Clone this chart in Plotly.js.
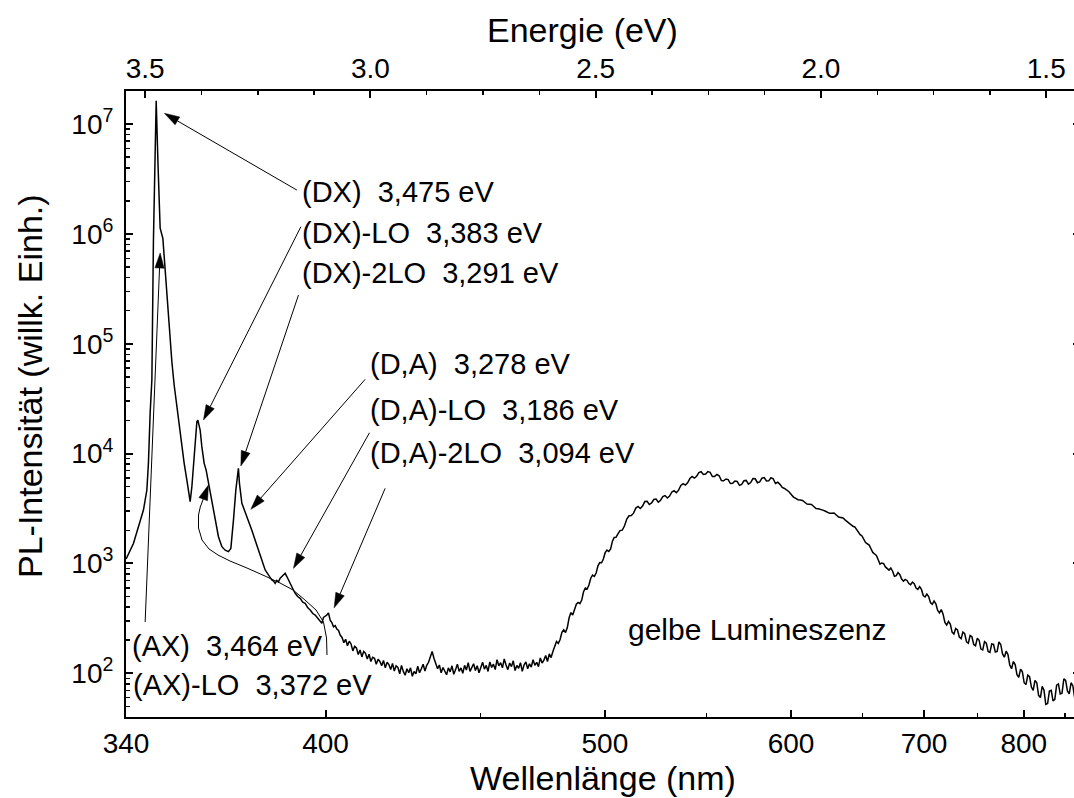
<!DOCTYPE html>
<html>
<head>
<meta charset="utf-8">
<script src="https://cdn.plot.ly/plotly-3.0.1.min.js"></script>
<style>
html,body{margin:0;padding:0;overflow:hidden;background:#fff;}
#chart{width:1082px;height:798px;}
</style>
</head>
<body>
<div id="chart"></div>
<script>
// ---------------- data ----------------
// near band-edge excitons and phonon replicas: photon energy (eV) / PL intensity (arb. units)
const excitonEnergy_eV = [
3.5422,3.526,3.5149,3.5038,3.4962,3.4927,3.4889,3.4851,3.4816,3.4755,3.4714,3.4667,3.4607,3.4556,3.4483,3.4407,3.4356,3.4296,3.4239,3.4185,
3.4134,3.4074,3.4039,3.4001,3.3963,3.3928,3.389,3.3852,3.383,3.3779,3.3741,3.369,3.3646,3.3595,3.352,3.3446,3.3373,3.3297,3.3224,3.3151,
3.3098,3.304,3.2987,3.293,3.2907,3.2853,3.278,3.2707,3.2632,3.2558,3.2485,3.241,3.2336,3.23,3.2263,3.2225,3.2188,3.215,3.2114,3.2078,
3.2041,3.2003,3.1966,3.193,3.1892,3.1855,3.1819,3.1781,3.1744,3.1707,3.167,3.1615,3.1559,3.1503,3.1448,3.139,3.1337,3.128,3.1226,3.117,
3.1115,3.1078,3.1042,3.1005,3.0967,3.0931,3.0893,3.0856,3.082,3.0782,3.0745,3.0708,3.0671
];
const excitonIntensity = [
1100,1520,2160,3060,4660,8200,23400,46700,879000,16300000,4240000,1130000,910000,452000,170000,68600,42100,26700,18900,12400,
8150,5740,4660,3650,4990,8150,14200,19500,20200,16400,11500,8150,7080,5360,3780,2480,1750,1420,1320,1280,
1370,2480,4660,7340,5360,3530,2960,2480,2010,1630,1320,1040,871,830,784,760,706,690,659,700,
681,735,757,790,813,760,706,640,593,570,535,500,481,445,433,395,377,350,339,318,
295,285,323,330,339,354,305,290,265,272,253,245,223
];
// noisy minimum between the UV lines and the yellow band
const valleyEnergy_eV = [
3.063,3.059,3.055,3.051,3.047,3.043,3.039,3.035,3.031,3.027,3.023,3.019,3.015,3.011,3.007,3.003,2.999,2.995,2.991,2.987,
2.983,2.979,2.975,2.971,2.967,2.963,2.959,2.955,2.951,2.947,2.943,2.939,2.935,2.931,2.927,2.923,2.919,2.915,2.911,2.907,
2.903,2.899,2.895,2.891,2.887,2.883,2.879,2.875,2.871,2.867,2.863,2.859,2.855,2.851,2.847,2.843,2.839,2.835,2.831,2.827,
2.823,2.819,2.815,2.811,2.807,2.803,2.799,2.795,2.791,2.787,2.783,2.779,2.775,2.771,2.767,2.763,2.759,2.755,2.751,2.747,
2.743,2.739,2.735,2.731,2.727,2.723,2.719,2.715,2.711,2.707,2.703,2.699,2.695,2.691,2.687,2.683,2.679,2.675,2.671,2.667,
2.663,2.659,2.655,2.651,2.647,2.643,2.639,2.635,2.631,2.627,2.623,2.619,2.615,2.611,2.607,2.603,2.599,2.595,2.591,2.587,
2.583,2.579,2.575,2.571,2.567,2.563,2.559,2.555,2.551,2.547,2.543,2.539,2.535,2.531,2.527,2.523,2.519,2.515,2.511,2.507,
2.503,2.499,2.495,2.491,2.487,2.483,2.479,2.475,2.471,2.467,2.463,2.459,2.455,2.451,2.446
];
const valleyIntensity = [
212,190,204,178,196,185,160,176,170,148,163,141,158,152,135,149,128,140,137,121,
134,128,117,131,112,126,120,108,123,105,117,113,99,118,104,96,110,101,112,94,
104,99,116,101,110,121,105,118,126,141,158,137,122,110,119,101,113,106,97,112,
103,117,98,108,121,104,112,100,118,107,125,104,113,122,106,117,101,114,126,109,
118,104,127,113,121,108,133,117,125,112,135,119,108,124,115,130,106,118,111,125,
104,119,127,110,122,114,133,118,126,115,138,124,132,145,128,150,139,158,176,195,
187,203,236,249,235,261,320,357,339,373,425,441,430,464,552,597,585,636,734,784,
761,818,950,1019,1015,1096,1253,1324,1284,1352,1586,1721,1731,1852,1990
];
// yellow luminescence band
const bandEnergy_eV = [
2.441,2.436,2.431,2.426,2.421,2.416,2.411,2.406,2.401,2.396,2.391,2.386,2.381,2.376,2.371,2.366,2.361,2.356,2.351,2.346,
2.341,2.336,2.331,2.326,2.321,2.316,2.311,2.306,2.301,2.296,2.291,2.286,2.281,2.276,2.271,2.266,2.261,2.256,2.251,2.246,
2.241,2.236,2.231,2.226,2.221,2.216,2.211,2.206,2.201,2.196,2.191,2.186,2.181,2.176,2.171,2.166,2.161,2.156,2.151,2.146,
2.141,2.136,2.131,2.126,2.121,2.116,2.111,2.106,2.101,2.096,2.091,2.086,2.081,2.076,2.071,2.066,2.061,2.056,2.051,2.046,
2.041,2.036,2.031,2.026,2.021,2.016,2.011,2.006,2.001,1.996,1.991,1.986,1.981,1.976,1.971,1.966,1.961,1.956,1.951,1.946,
1.941,1.937
];
const bandIntensity = [
2010,2200,2540,2720,2730,2870,3190,3300,3160,3330,3660,3680,3440,3560,3820,3860,3620,3760,4060,4150,
3940,4100,4470,4600,4400,4650,5120,5330,5170,5420,5930,6180,5990,6220,6720,6850,6470,6520,6870,6750,
6180,6200,6450,6280,5680,5650,5870,5800,5340,5360,5630,5580,5140,5250,5660,5700,5280,5450,5930,5900,
5430,5520,5970,6050,5630,5650,6030,5900,5340,5480,5250,4920,4810,4650,4500,4250,4020,3910,3800,3780,
3750,3610,3470,3455,3440,3300,3160,3140,3120,3060,3000,2930,2860,2870,2880,2760,2650,2620,2590,2480,
2380,2330
];
// red / near-infrared tail
const tailEnergy_eV = [
1.933,1.929,1.925,1.921,1.917,1.913,1.909,1.905,1.901,1.897,1.893,1.889,1.885,1.881,1.877,1.873,1.869,1.865,1.861,1.857,
1.853,1.849,1.845,1.841,1.837,1.833,1.829,1.825,1.821,1.817,1.813,1.809,1.805,1.801,1.797,1.793,1.789,1.785,1.781,1.777,
1.773,1.769,1.765,1.761,1.757,1.753,1.749,1.745,1.741,1.737,1.733,1.729,1.725,1.721,1.717,1.713,1.709,1.705,1.701,1.697,
1.693,1.689,1.685,1.681,1.677,1.673,1.669,1.665,1.661,1.657,1.653,1.649,1.645,1.641,1.637,1.633,1.629,1.625,1.621,1.617,
1.613,1.609,1.605,1.601,1.597,1.593,1.589,1.585,1.581,1.577,1.573,1.569,1.565,1.561,1.557,1.553,1.549,1.545,1.541,1.537,
1.533,1.529,1.525,1.521,1.517,1.513,1.509,1.505,1.501,1.497,1.493,1.489,1.485,1.481,1.477,1.473,1.469,1.465,1.461,1.457,
1.453,1.449,1.445,1.441,1.437,1.433,1.429,1.425,1.421
];
const tailIntensity = [
2210,2180,2150,2020,1890,1830,1780,1660,1550,1510,1470,1360,1260,1220,1180,1080,987,1010,998,930,
889,870,908,850,763,775,826,790,721,690,714,700,656,640,677,655,597,580,616,580,
510,495,526,500,441,425,455,430,373,355,380,345,290,275,296,280,237,228,256,248,
214,207,237,230,193,188,221,215,183,178,209,200,166,163,194,188,158,155,185,183,
156,158,193,183,150,140,159,148,119,110,128,120,97,92,109,103,82,79,96,93,
75,70,86,82,63,60,76,70,52,53,69,70,56,58,78,80,65,66,89,86,
69,65,82,77,60,58,73,74,62
];

// identified emission lines
const peakNames = ['(DX)','(DX)-LO','(DX)-2LO','(D,A)','(D,A)-LO','(D,A)-2LO','(AX)','(AX)-LO'];
const peakEnergies_eV = [3.475,3.383,3.291,3.278,3.186,3.094,3.464,3.372];
const bandLabel = 'gelbe Lumineszenz';

// axis ticks
const wavelengthTicks_nm = [350,400,500,600,700,800];        // left frame edge is printed "340"
const wavelengthTickText = ['340','400','500','600','700','800'];
const wavelengthMinor_nm = [450,550,650,750,850];
const decadeExponents = [2,3,4,5,6,7];

// ---------------- chart ----------------
const energy_eV = [].concat(excitonEnergy_eV, valleyEnergy_eV, bandEnergy_eV, tailEnergy_eV);
const intensity = [].concat(excitonIntensity, valleyIntensity, bandIntensity, tailIntensity);

const HC = 1239.84;                       // eV*nm
const nmToEV = nm => HC / nm;
const FONT = 'Liberation Sans, Arial, Helvetica, sans-serif';
const xRange = [3.5425, HC / 870];
const yLogRange = [Math.log10(40), Math.log10(2e7)];
const PLOT = {l: 126, t: 91, w: 954, h: 626};

const decadeTicks = decadeExponents.map(e => Math.pow(10, e));
const decadeTickText = decadeExponents.map(e => '10<sup>' + e + '</sup>');
const minorY = [];
for (let e = 1; e <= 7; e++) for (let m = 2; m <= 9; m++) minorY.push(m * Math.pow(10, e));

const fmtE = v => v.toFixed(3).replace('.', ',');
const labelText = peakNames.map((n, i) => n + '\u00a0\u00a0' + fmtE(peakEnergies_eV[i]) + ' eV');

// label anchor positions (eV, log10 intensity) -- layout only
const labelPos = [
  [3.1566, 6.3837], [3.1566, 6.005], [3.1566, 5.641],
  [3.005, 4.815], [3.005, 4.3965], [3.005, 4.0023],
  [3.534, 2.248], [3.5311, 1.893]
];
// arrows: [tipE, tipLog, tailE, tailLog]
const arrows = [
  [3.4572, 7.0974, 3.1633, 6.3992],
  [3.3706, 4.3054, 3.1544, 6.0651],
  [3.2876, 3.8867, 3.1597, 5.4433],
  [3.2654, 3.4925, 3.0117, 4.6759],
  [3.1708, 2.9554, 3.0021, 4.1898],
  [3.0805, 2.5958, 2.9673, 3.6836],
  [3.4667, 5.8257, 3.5, 2.4666],
  [3.3595, 3.7137, 3.3768, 3.5226]
];

// helpers to draw narrow arrowheads as shapes (paper coordinates)
function toPx(E, L) {
  return [PLOT.l + (xRange[0] - E) / (xRange[0] - xRange[1]) * PLOT.w,
          PLOT.t + (yLogRange[1] - L) / (yLogRange[1] - yLogRange[0]) * PLOT.h];
}
function toPaper(p) {
  return [((p[0] - PLOT.l) / PLOT.w).toFixed(5), ((PLOT.t + PLOT.h - p[1]) / PLOT.h).toFixed(5)];
}
const shapes = [];
const HEAD_LEN = 15, HEAD_HALF = 4.6;
arrows.forEach(a => {
  const T = toPx(a[0], a[1]), S = toPx(a[2], a[3]);
  const dx = T[0] - S[0], dy = T[1] - S[1], len = Math.hypot(dx, dy);
  const ux = dx / len, uy = dy / len, nx = -uy, ny = ux;
  const B = [T[0] - ux * HEAD_LEN, T[1] - uy * HEAD_LEN];
  const L1 = [B[0] + nx * HEAD_HALF, B[1] + ny * HEAD_HALF];
  const R1 = [B[0] - nx * HEAD_HALF, B[1] - ny * HEAD_HALF];
  const s = toPaper(S), b = toPaper(B), t = toPaper(T), l = toPaper(L1), r = toPaper(R1);
  shapes.push({type: 'path', xref: 'paper', yref: 'paper',
    path: 'M' + s[0] + ',' + s[1] + ' L' + b[0] + ',' + b[1],
    line: {color: 'black', width: 1}});
  shapes.push({type: 'path', xref: 'paper', yref: 'paper',
    path: 'M' + t[0] + ',' + t[1] + ' L' + l[0] + ',' + l[1] + ' L' + r[0] + ',' + r[1] + ' Z',
    fillcolor: 'black', line: {color: 'black', width: 0.5}});
});
// curved leader line for the (AX)-LO label (paper coordinates)
const curvePts = [
  [0.2107,0.0990],[0.2102,0.1262],[0.2070,0.1518],[0.1992,0.1709],[0.1876,0.1869],[0.1751,0.2029],
  [0.1614,0.2141],[0.1457,0.2252],[0.1268,0.2380],[0.1090,0.2492],[0.0964,0.2588],[0.0870,0.2684],
  [0.0797,0.2827],[0.0760,0.3019],[0.0760,0.3227],[0.0781,0.3371]
];
shapes.push({type: 'path', xref: 'paper', yref: 'paper',
  path: curvePts.map((p, i) => (i ? 'L' : 'M') + p[0] + ',' + p[1]).join(' '),
  line: {color: 'black', width: 1}});

const annotations = [];
labelText.forEach((t, i) => {
  annotations.push({
    xref: 'x', yref: 'y', x: labelPos[i][0], y: labelPos[i][1],
    xanchor: 'left', yanchor: 'middle', showarrow: false, text: t,
    font: {family: FONT, size: 29, color: 'black'}
  });
});
annotations.push({
  xref: 'x', yref: 'y', x: 2.4323, y: 2.4028, xanchor: 'left', yanchor: 'middle',
  showarrow: false, text: bandLabel, font: {family: FONT, size: 30, color: 'black'}
});
annotations.push({
  xref: 'paper', yref: 'paper', x: 0.479, y: 1.0974, xanchor: 'center', yanchor: 'middle',
  showarrow: false, text: 'Energie (eV)', font: {family: FONT, size: 34, color: 'black'}
});
annotations.push({
  xref: 'paper', yref: 'paper', x: -0.1006, y: 0.5288, xanchor: 'center', yanchor: 'middle',
  showarrow: false, textangle: -90, text: 'PL-Intensität (willk. Einh.)',
  font: {family: FONT, size: 34, color: 'black'}
});

const trace = {
  type: 'scatter', mode: 'lines', x: energy_eV, y: intensity,
  line: {color: 'black', width: 1.5}, hoverinfo: 'skip', showlegend: false
};
// carrier for the top (energy) axis: same spectrum, not drawn
const topAxisTrace = {
  type: 'scatter', mode: 'lines', x: energy_eV, y: intensity, xaxis: 'x2', yaxis: 'y',
  line: {color: 'rgba(0,0,0,0)', width: 0}, hoverinfo: 'skip', showlegend: false
};

const axisCommon = {
  showline: true, linewidth: 2, linecolor: 'black', showgrid: false, zeroline: false,
  ticks: 'inside', ticklen: 7, tickwidth: 2, tickcolor: 'black',
  tickfont: {family: FONT, size: 28, color: 'black'}
};

const layout = {
  width: 1082, height: 798,
  margin: {l: 126, r: 2, t: 91, b: 81, pad: 0},
  paper_bgcolor: 'white', plot_bgcolor: 'white',
  showlegend: false,
  font: {family: FONT, size: 28, color: 'black'},
  xaxis: Object.assign({}, axisCommon, {
    type: 'linear', range: xRange, mirror: false,
    tickmode: 'array', tickvals: wavelengthTicks_nm.map(nmToEV), ticktext: wavelengthTickText,
    minor: {tickmode: 'array', tickvals: wavelengthMinor_nm.map(nmToEV), ticks: 'inside',
            ticklen: 4, tickwidth: 1.5, tickcolor: 'black', showgrid: false},
    title: {text: 'Wellenlänge (nm)', font: {family: FONT, size: 34, color: 'black'}, standoff: 8}
  }),
  xaxis2: Object.assign({}, axisCommon, {
    type: 'linear', range: xRange, overlaying: 'x', side: 'top', anchor: 'y',
    tickmode: 'linear', tick0: 1.5, dtick: 0.5, tickformat: '.1f',
    minor: {tick0: 1.5, dtick: 0.125, ticks: 'inside', ticklen: 4, tickwidth: 1.5,
            tickcolor: 'black', showgrid: false}
  }),
  yaxis: Object.assign({}, axisCommon, {
    type: 'log', range: yLogRange, mirror: 'ticks', ticklabelstandoff: 5,
    tickmode: 'array', tickvals: decadeTicks, ticktext: decadeTickText,
    minor: {tickmode: 'array', tickvals: minorY, ticks: 'inside', ticklen: 4,
            tickwidth: 1.5, tickcolor: 'black', showgrid: false}
  }),
  annotations: annotations,
  shapes: shapes
};

Plotly.newPlot('chart', [trace, topAxisTrace], layout, {staticPlot: true, displayModeBar: false});
</script>
</body>
</html>
